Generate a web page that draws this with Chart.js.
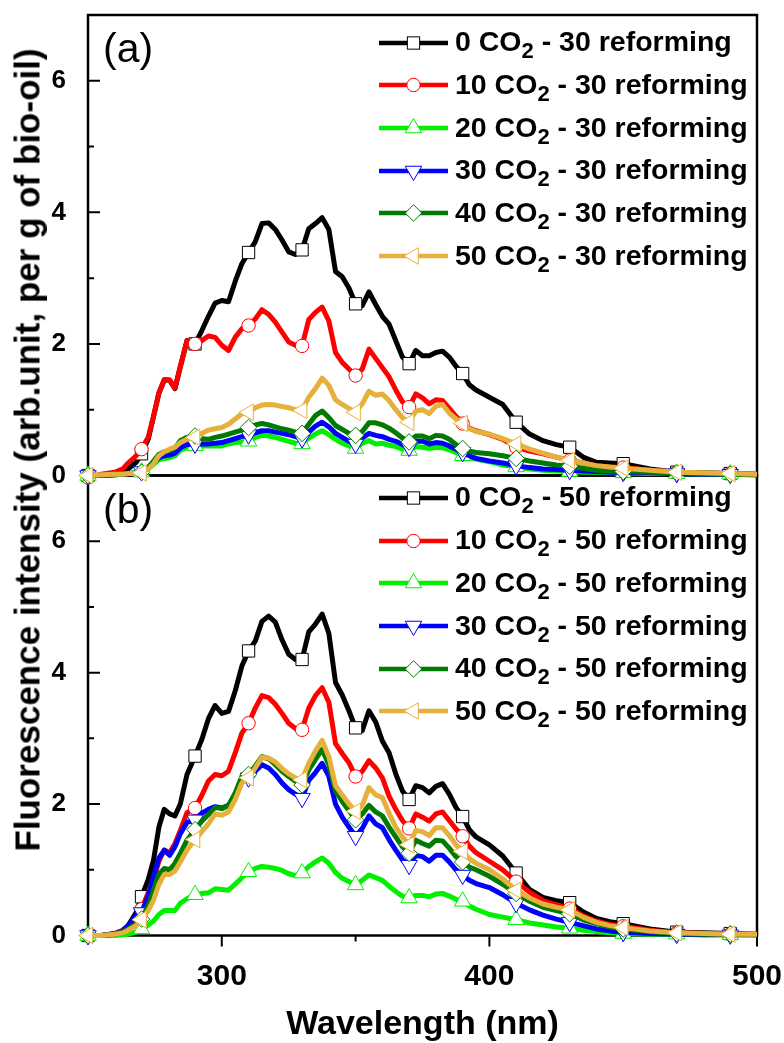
<!DOCTYPE html>
<html>
<head>
<meta charset="utf-8">
<title>Fluorescence spectra</title>
<script src="https://cdn.jsdelivr.net/npm/chart.js@4.4.1/dist/chart.umd.min.js"></script>
<style>
  html, body { margin: 0; padding: 0; background: #fff; }
  #figure { position: relative; width: 784px; height: 1043px; overflow: hidden;
            font-family: 'Liberation Sans', Arial, sans-serif; color: #000; }
  #figure canvas { position: absolute; left: 0; top: 0; }
  .ytitle { position: absolute; left: 27px; top: 450px; transform: translate(-50%, -50%) rotate(-90deg);
            font-weight: bold; font-size: 35px; line-height: 1; white-space: nowrap; }
  .tag { position: absolute; left: 103px; font-size: 41px; line-height: 1; }
  .legend { position: absolute; left: 379px; }
  .legend .row { display: flex; align-items: center; height: 42.7px; }
  .legend svg { flex: none; margin-right: 7px; }
  .legend .txt { font-weight: bold; font-size: 28.5px; line-height: 42px; white-space: nowrap; }
  .legend sub { font-size: 22px; vertical-align: baseline; position: relative; top: 7px; }
</style>
</head>
<body>
<div id="figure">
  <canvas id="chartB" width="784" height="1043"></canvas>
  <canvas id="chartA" width="784" height="1043"></canvas>
  <div class="tag" style="top:28px">(a)</div>
  <div class="tag" style="top:489px">(b)</div>
  <div class="legend" id="legendA" style="top:21.3px"></div>
  <div class="legend" id="legendB" style="top:476.6px"></div>
  <div class="ytitle">Fluorescence intensity (arb.unit, per g of bio-oil)</div>
</div>
<script>
// wavelength grid (nm), shared by every spectrum
const wavelengths = [250, 255, 260, 263, 265, 268, 270,
  272.5, 274.5, 276.5, 278.5, 280.5, 282.5, 284.5, 287,
  290, 292.5, 295, 297.5, 300, 302.5, 305, 307.5, 310, 312.5, 315, 317.5, 320, 322.5, 325, 327.5,
  330, 332.5, 335, 337.5, 340, 342.5, 345, 347.5, 350, 352.5, 355, 357.5, 360, 362.5, 365, 367.5,
  370, 372.5, 375, 377.5, 380, 382.5, 385, 387.5, 390, 392.5, 395,
  400, 405, 410, 415, 420, 425, 430, 435, 440, 445, 450,
  460, 470, 480, 490, 500];

// symbols are only drawn every 20 nm
const markerWavelengths = [250, 270, 290, 310, 330, 350, 370, 390, 410, 430, 450, 470, 490];

const co2Levels = [0, 10, 20, 30, 40, 50];
const reformingA = 30;
const reformingB = 50;

const xTickValues = [300, 400, 500];
const xMinorTicks = [350, 450];
const yTickValues = [0, 2, 4, 6];
const yMinorTicks = [1, 3, 5];

// (a) 30 reforming
const r30_co2_0 = [0, 0, 0.02, 0.05, 0.1, 0.2, 0.33,
  0.55, 0.9, 1.25, 1.45, 1.45, 1.32, 1.65, 2.05,
  2.0, 2.2, 2.42, 2.62, 2.66, 2.64, 2.95, 3.22, 3.39, 3.55, 3.83, 3.84, 3.74, 3.58, 3.4, 3.36,
  3.43, 3.75, 3.83, 3.92, 3.74, 3.1, 3.02, 2.85, 2.61, 2.58, 2.79, 2.6, 2.42, 2.3, 2.05, 1.8,
  1.7, 1.9, 1.82, 1.82, 1.87, 1.89, 1.8, 1.66, 1.55, 1.38, 1.3,
  1.19, 1.08, 0.81, 0.63, 0.53, 0.47, 0.43, 0.28, 0.2, 0.19, 0.18,
  0.1, 0.05, 0.04, 0.03, 0.02];
const r30_co2_10 = [-0.03, 0.02, 0.05, 0.1, 0.19, 0.3, 0.4,
  0.58, 0.9, 1.26, 1.46, 1.45, 1.33, 1.66, 2.05,
  2.0, 2.05, 2.12, 2.1, 1.98, 1.9, 2.1, 2.23, 2.28, 2.38, 2.52, 2.45, 2.33, 2.18, 2.03, 1.98,
  1.97, 2.37, 2.48, 2.56, 2.35, 1.87, 1.72, 1.62, 1.52, 1.62, 1.92, 1.78, 1.64, 1.5, 1.3, 1.12,
  1.04, 1.24, 1.18, 1.09, 1.15, 1.14, 1.02, 0.9, 0.79, 0.72, 0.68,
  0.62, 0.55, 0.43, 0.37, 0.33, 0.28, 0.23, 0.19, 0.15, 0.13, 0.12,
  0.08, 0.05, 0.03, 0.03, 0.02];
const r30_co2_20 = [0, 0, 0.01, 0.02, 0.03, 0.04, 0.05,
  0.1, 0.17, 0.24, 0.26, 0.27, 0.3, 0.38, 0.43,
  0.45, 0.45, 0.45, 0.45, 0.45, 0.48, 0.5, 0.51, 0.52, 0.58, 0.61, 0.6, 0.58, 0.55, 0.52, 0.49,
  0.48, 0.57, 0.63, 0.68, 0.62, 0.55, 0.49, 0.45, 0.41, 0.49, 0.53, 0.48, 0.49, 0.46, 0.44, 0.4,
  0.38, 0.44, 0.43, 0.41, 0.43, 0.42, 0.39, 0.35, 0.3, 0.27, 0.25,
  0.21, 0.16, 0.13, 0.1, 0.08, 0.07, 0.06, 0.05, 0.05, 0.04, 0.04,
  0.03, 0.03, 0.02, 0.02, 0.01];
const r30_co2_30 = [0, 0, 0.01, 0.02, 0.03, 0.04, 0.06,
  0.12, 0.2, 0.27, 0.3, 0.31, 0.34, 0.42, 0.47,
  0.48, 0.48, 0.48, 0.49, 0.5, 0.53, 0.56, 0.59, 0.62, 0.65, 0.68, 0.68, 0.66, 0.64, 0.62, 0.59,
  0.56, 0.66, 0.75, 0.81, 0.74, 0.64, 0.58, 0.52, 0.48, 0.57, 0.64, 0.61, 0.59, 0.55, 0.52, 0.47,
  0.43, 0.52, 0.52, 0.48, 0.5, 0.49, 0.45, 0.4, 0.35, 0.3, 0.26,
  0.22, 0.19, 0.15, 0.12, 0.1, 0.09, 0.08, 0.07, 0.06, 0.05, 0.05,
  0.04, 0.03, 0.02, 0.02, 0.01];
const r30_co2_40 = [0, 0, 0.01, 0.02, 0.03, 0.04, 0.05,
  0.12, 0.22, 0.32, 0.36, 0.38, 0.42, 0.53, 0.58,
  0.6, 0.56, 0.55, 0.58, 0.6, 0.63, 0.66, 0.69, 0.73, 0.77, 0.79, 0.77, 0.74, 0.71, 0.69, 0.66,
  0.64, 0.78, 0.91, 0.98, 0.88, 0.76, 0.7, 0.64, 0.61, 0.67, 0.8, 0.8, 0.77, 0.72, 0.65, 0.57,
  0.51, 0.6, 0.6, 0.56, 0.61, 0.6, 0.55, 0.47, 0.41, 0.37, 0.35,
  0.33, 0.3, 0.26, 0.22, 0.19, 0.16, 0.14, 0.11, 0.08, 0.07, 0.06,
  0.05, 0.04, 0.03, 0.02, 0.01];
const r30_co2_50 = [0, 0.01, 0.02, 0.02, 0.03, 0.03, 0.04,
  0.1, 0.18, 0.3, 0.36, 0.4, 0.43, 0.5, 0.55,
  0.58, 0.64, 0.69, 0.71, 0.73, 0.78, 0.86, 0.94, 0.96, 1.03, 1.07, 1.08, 1.07, 1.05, 1.03, 1.0,
  0.99, 1.19, 1.32, 1.48, 1.37, 1.15, 1.08, 1.02, 0.96, 1.09, 1.28, 1.22, 1.24, 1.14, 1.0, 0.88,
  0.81, 0.98, 1.0, 0.94, 1.05, 1.08, 0.95, 0.86, 0.79, 0.71, 0.67,
  0.63, 0.56, 0.48, 0.4, 0.34, 0.28, 0.23, 0.19, 0.15, 0.13, 0.11,
  0.08, 0.05, 0.04, 0.03, 0.02];

// (b) 50 reforming
const r50_co2_0 = [0, 0, 0.03, 0.08, 0.15, 0.35, 0.59,
  0.85, 1.15, 1.65, 1.92, 1.85, 1.82, 2.0, 2.45,
  2.73, 2.98, 3.3, 3.5, 3.38, 3.41, 3.72, 4.1, 4.33, 4.48, 4.78, 4.86, 4.77, 4.5, 4.28, 4.2,
  4.2, 4.62, 4.74, 4.89, 4.6, 3.85, 3.66, 3.42, 3.16, 3.12, 3.42, 3.25, 2.96, 2.78, 2.46, 2.2,
  2.07, 2.28, 2.25, 2.17, 2.27, 2.31, 2.15, 1.95, 1.81, 1.61, 1.5,
  1.38, 1.21, 0.95, 0.7, 0.58, 0.53, 0.5, 0.36, 0.26, 0.21, 0.18,
  0.1, 0.05, 0.04, 0.03, 0.02];
const r50_co2_10 = [0, 0, 0.03, 0.07, 0.12, 0.25, 0.4,
  0.65, 0.85, 1.13, 1.3, 1.26, 1.4, 1.6, 1.87,
  1.94, 2.13, 2.35, 2.45, 2.43, 2.5, 2.78, 3.08, 3.23, 3.46, 3.65, 3.62, 3.52, 3.38, 3.23, 3.15,
  3.13, 3.46, 3.65, 3.77, 3.55, 2.92, 2.77, 2.63, 2.42, 2.5, 2.66, 2.55, 2.4, 2.12, 1.92, 1.75,
  1.63, 1.85, 1.8, 1.74, 1.85, 1.88, 1.75, 1.62, 1.51, 1.36, 1.26,
  1.13, 1.0, 0.82, 0.66, 0.53, 0.47, 0.41, 0.3, 0.22, 0.17, 0.14,
  0.08, 0.04, 0.03, 0.02, 0.02];
const r50_co2_20 = [0, 0, 0, 0.01, 0.02, 0.05, 0.1,
  0.16, 0.22, 0.32, 0.38, 0.38, 0.38, 0.49, 0.56,
  0.62, 0.64, 0.65, 0.71, 0.7, 0.69, 0.78, 0.88, 0.97, 1.02, 1.05, 1.04, 1.02, 0.99, 0.94, 0.91,
  0.95, 1.05, 1.12, 1.18, 1.1, 0.96, 0.87, 0.82, 0.77, 0.84, 0.92, 0.88, 0.84, 0.75, 0.67, 0.6,
  0.57, 0.61, 0.61, 0.59, 0.63, 0.64, 0.6, 0.55, 0.52, 0.45, 0.4,
  0.32, 0.28, 0.24, 0.19, 0.16, 0.13, 0.11, 0.08, 0.06, 0.04, 0.03,
  0.02, 0.02, 0.01, 0.01, 0.01];
const r50_co2_30 = [0, 0, 0.02, 0.06, 0.15, 0.3, 0.35,
  0.6, 0.9, 1.18, 1.3, 1.22, 1.35, 1.55, 1.72,
  1.76, 1.86, 1.92, 1.96, 1.94, 1.98, 2.12, 2.35, 2.4, 2.5, 2.6, 2.55, 2.45, 2.32, 2.22, 2.15,
  2.09, 2.36, 2.48, 2.62, 2.42, 2.0, 1.8, 1.65, 1.51, 1.63, 1.82, 1.7, 1.64, 1.46, 1.3, 1.15,
  1.07, 1.22, 1.2, 1.13, 1.22, 1.22, 1.12, 1.0, 0.92, 0.84, 0.79,
  0.73, 0.62, 0.49, 0.39, 0.31, 0.25, 0.2, 0.15, 0.1, 0.07, 0.05,
  0.03, 0.02, 0.01, 0.01, 0.01];
const r50_co2_40 = [0, 0, 0.02, 0.05, 0.1, 0.18, 0.25,
  0.45, 0.69, 0.93, 1.02, 1.0, 1.1, 1.25, 1.45,
  1.61, 1.74, 1.84, 1.95, 1.93, 1.98, 2.17, 2.42, 2.45, 2.58, 2.72, 2.69, 2.6, 2.5, 2.42, 2.35,
  2.29, 2.52, 2.68, 2.83, 2.6, 2.2, 2.04, 1.9, 1.76, 1.85, 1.98, 1.88, 1.82, 1.65, 1.5, 1.35,
  1.25, 1.45, 1.4, 1.36, 1.45, 1.44, 1.33, 1.2, 1.12, 1.04, 1.0,
  0.9, 0.78, 0.64, 0.52, 0.43, 0.38, 0.33, 0.24, 0.18, 0.13, 0.1,
  0.06, 0.03, 0.02, 0.02, 0.01];
const r50_co2_50 = [0, 0, 0.02, 0.04, 0.08, 0.15, 0.24,
  0.38, 0.54, 0.78, 0.93, 0.93, 0.98, 1.12, 1.3,
  1.46, 1.58, 1.7, 1.85, 1.83, 1.88, 2.07, 2.32, 2.4, 2.55, 2.71, 2.7, 2.64, 2.54, 2.46, 2.4,
  2.37, 2.62, 2.81, 2.97, 2.72, 2.28, 2.14, 2.0, 1.89, 1.98, 2.25, 2.14, 2.1, 1.86, 1.65, 1.5,
  1.38, 1.6, 1.58, 1.52, 1.64, 1.64, 1.52, 1.38, 1.28, 1.17, 1.1,
  1.0, 0.86, 0.69, 0.57, 0.48, 0.43, 0.39, 0.28, 0.2, 0.15, 0.12,
  0.07, 0.04, 0.03, 0.02, 0.02];

const seriesColors = ['#000000', '#ff0000', '#00f000', '#0000ff', '#007a00', '#e6b03c'];
const markers = [
  { style: 'rect', rotation: 0, radius: 8.7 },
  { style: 'circle', rotation: 0, radius: 6.7 },
  { style: 'triangle', rotation: 0, radius: 9.5 },
  { style: 'triangle', rotation: 180, radius: 9.5 },
  { style: 'rectRot', rotation: 0, radius: 8.3 },
  { style: 'triangle', rotation: 270, radius: 9.5 }
];

const FONT = "'Liberation Sans', Arial, sans-serif";
Chart.defaults.font.family = FONT;
Chart.defaults.color = '#000';

const markerSet = new Set(markerWavelengths);

// box around the plot, y ticks pointing in, x ticks hanging below
const frameTicks = {
  id: 'frameTicks',
  beforeDatasetsDraw(chart, args, opts) {
    const { ctx, chartArea: a, scales: { x, y } } = chart;
    ctx.save();
    ctx.strokeStyle = '#000';
    ctx.lineWidth = 2.5;
    ctx.strokeRect(a.left, a.top, a.right - a.left, a.bottom - a.top);
    ctx.lineWidth = 2;
    ctx.beginPath();
    yTickValues.forEach(v => { const p = y.getPixelForValue(v); ctx.moveTo(a.left, p); ctx.lineTo(a.left + 12, p); });
    yMinorTicks.forEach(v => { const p = y.getPixelForValue(v); ctx.moveTo(a.left, p); ctx.lineTo(a.left + 6, p); });
    if (opts.xTicks) {
      xTickValues.forEach(v => { const p = x.getPixelForValue(v); ctx.moveTo(p, a.bottom); ctx.lineTo(p, a.bottom + 11); });
      xMinorTicks.forEach(v => { const p = x.getPixelForValue(v); ctx.moveTo(p, a.bottom); ctx.lineTo(p, a.bottom + 6); });
    }
    ctx.stroke();
    ctx.restore();
  }
};

function makeDatasets(seriesList, reforming) {
  const n = seriesList.length;
  return seriesList.map((vals, i) => ({
    label: co2Levels[i] + ' CO2 - ' + reforming + ' reforming',
    data: wavelengths.map((w, k) => ({ x: w, y: vals[k] })),
    borderColor: seriesColors[i],
    borderWidth: 5,
    borderJoinStyle: 'round',
    tension: 0,
    pointStyle: markers[i].style,
    pointRotation: markers[i].rotation,
    pointRadius: c => (c.dataIndex !== undefined && markerSet.has(wavelengths[c.dataIndex])) ? markers[i].radius : 0,
    pointHoverRadius: 0,
    pointBackgroundColor: '#ffffff',
    pointBorderColor: seriesColors[i],
    pointBorderWidth: 1,
    order: n - i,
    clip: 14
  }));
}

function makePanel(canvasId, seriesList, reforming, top, bottom, isLower) {
  const xAxisHeight = isLower ? 106 : 0;
  return new Chart(document.getElementById(canvasId), {
    type: 'line',
    data: { datasets: makeDatasets(seriesList, reforming) },
    options: {
      responsive: false,
      devicePixelRatio: 1,
      animation: false,
      events: [],
      layout: { padding: { left: 28, right: 27, top: top, bottom: 1043 - bottom - xAxisHeight } },
      plugins: {
        legend: { display: false },
        tooltip: { enabled: false },
        frameTicks: { xTicks: isLower }
      },
      scales: {
        x: {
          type: 'linear',
          min: 250,
          max: 500,
          grid: { display: false },
          border: { display: false },
          afterBuildTicks: s => { s.ticks = xTickValues.map(v => ({ value: v })); },
          afterFit: s => { s.height = xAxisHeight; s.paddingLeft = 0; s.paddingRight = 0; },
          ticks: {
            display: isLower,
            padding: 15,
            maxRotation: 0,
            font: { size: 30, weight: 'bold', family: FONT }
          },
          title: {
            display: isLower,
            text: 'Wavelength (nm)',
            padding: 0,
            font: { size: 34, weight: 'bold', lineHeight: 1, family: FONT }
          }
        },
        y: {
          min: 0,
          max: 7,
          grid: { display: false },
          border: { display: false },
          afterBuildTicks: s => { s.ticks = yTickValues.map(v => ({ value: v })); },
          afterFit: s => { s.width = 60; s.paddingTop = 0; s.paddingBottom = 0; },
          ticks: {
            padding: 14,
            font: { size: 26, weight: 'bold', family: FONT }
          }
        }
      }
    },
    plugins: [frameTicks]
  });
}

makePanel('chartB', [r50_co2_0, r50_co2_10, r50_co2_20, r50_co2_30, r50_co2_40, r50_co2_50], reformingB, 475.5, 935.5, true);
makePanel('chartA', [r30_co2_0, r30_co2_10, r30_co2_20, r30_co2_30, r30_co2_40, r30_co2_50], reformingA, 15, 475.5, false);

// legend swatches: a line with the hollow symbol in its middle
function symbolSvg(i, cx, cy) {
  const m = markers[i];
  const c = seriesColors[i];
  const paint = `fill="#fff" stroke="${c}" stroke-width="1"`;
  if (m.style === 'circle') return `<circle cx="${cx}" cy="${cy}" r="${m.radius}" ${paint}/>`;
  if (m.style === 'rect') {
    const h = m.radius * Math.SQRT1_2;
    return `<rect x="${cx - h}" y="${cy - h}" width="${2 * h}" height="${2 * h}" ${paint}/>`;
  }
  const corners = m.style === 'rectRot' ? 4 : 3;
  const pts = [];
  for (let k = 0; k < corners; k++) {
    const ang = (m.rotation + k * 360 / corners) * Math.PI / 180;
    pts.push((cx + Math.sin(ang) * m.radius).toFixed(2) + ',' + (cy - Math.cos(ang) * m.radius).toFixed(2));
  }
  return `<polygon points="${pts.join(' ')}" ${paint}/>`;
}

function buildLegend(el, reforming) {
  co2Levels.forEach((level, i) => {
    const row = document.createElement('div');
    row.className = 'row';
    row.innerHTML =
      `<svg width="69" height="22" viewBox="0 0 69 22">` +
      `<line x1="0" y1="11" x2="69" y2="11" stroke="${seriesColors[i]}" stroke-width="4.5"/>` +
      symbolSvg(i, 34.5, 11) + `</svg>` +
      `<span class="txt">${level} CO<sub>2</sub> - ${reforming} reforming</span>`;
    el.appendChild(row);
  });
}

buildLegend(document.getElementById('legendA'), reformingA);
buildLegend(document.getElementById('legendB'), reformingB);
</script>
</body>
</html>
